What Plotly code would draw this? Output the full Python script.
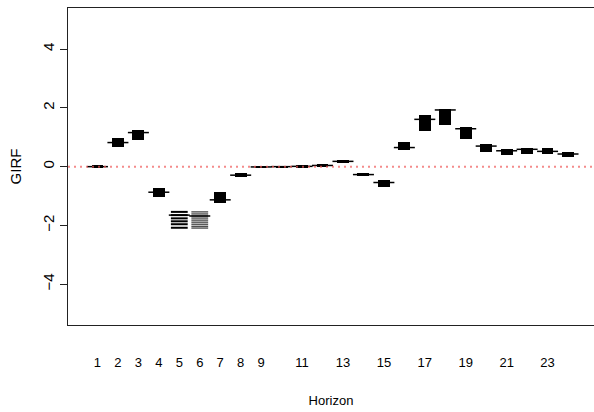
import plotly.graph_objects as go

# Horizons 1..24
horizon = list(range(1, 25))
# box lower / upper edges and the wider (median) line
box_lo = [-0.04, 0.68, 0.91, -1.02, None, None, -1.23, -0.36, -0.04, -0.02, -0.02, 0.00,
          0.13, -0.32, -0.68, 0.57, 1.23, 1.41, 0.93, 0.51, 0.41, 0.44, 0.44, 0.34]
box_hi = [0.04, 0.97, 1.25, -0.72, None, None, -0.86, -0.22, 0.02, 0.03, 0.04, 0.08,
          0.23, -0.22, -0.45, 0.84, 1.75, 1.97, 1.34, 0.76, 0.60, 0.64, 0.64, 0.50]
box_mid = [0.00, 0.82, 1.16, -0.87, -1.65, -1.68, -1.13, -0.29, -0.01, 0.00, 0.01, 0.04,
           0.18, -0.27, -0.54, 0.65, 1.61, 1.93, 1.29, 0.70, 0.54, 0.59, 0.52, 0.43]
# horizons 5 and 6 show separate horizontal strokes
stripes_h5 = [-1.54, -1.65, -1.76, -1.86, -1.96, -2.08]
stripes_h6 = [-1.54, -1.61, -1.68, -1.75, -1.82, -1.89, -1.96, -2.03, -2.09]

xtick_vals = [1, 2, 3, 4, 5, 6, 7, 8, 9, 11, 13, 15, 17, 19, 21, 23]
xtick_text = [str(v) for v in xtick_vals]
ytick_vals = [-4, -2, 0, 2, 4]

bx, bbase, bh = [], [], []
for h, lo, hi in zip(horizon, box_lo, box_hi):
    if lo is None:
        continue
    bx.append(h)
    bbase.append(lo)
    bh.append(hi - lo)

fig = go.Figure()
fig.add_trace(go.Bar(x=bx, base=bbase, y=bh, width=0.58,
                     marker=dict(color="black", line=dict(width=0)),
                     showlegend=False, hoverinfo="skip"))
# stripes for horizons 5 and 6
fig.add_trace(go.Scatter(x=[5] * len(stripes_h5), y=stripes_h5, mode="markers",
                         marker=dict(symbol="line-ew", size=12,
                                     line=dict(color="black", width=2)),
                         showlegend=False, hoverinfo="skip"))
fig.add_trace(go.Scatter(x=[6] * len(stripes_h6), y=stripes_h6, mode="markers",
                         marker=dict(symbol="line-ew", size=12,
                                     line=dict(color="#444", width=1.3)),
                         showlegend=False, hoverinfo="skip"))
# wider median strokes
fig.add_trace(go.Scatter(x=horizon, y=box_mid, mode="markers",
                         marker=dict(symbol="line-ew", size=15,
                                     line=dict(color="black", width=1.5)),
                         showlegend=False, hoverinfo="skip"))

fig.add_hline(y=0, line=dict(color="rgba(240,90,90,0.7)", width=2, dash="2px,4px"))

font_fam = "Liberation Sans, Arial, sans-serif"

fig.update_layout(
    width=594, height=412,
    margin=dict(l=68, r=0, t=8, b=87),
    paper_bgcolor="white", plot_bgcolor="white",
    bargap=0,
    xaxis=dict(range=[-0.44, 25.27], showgrid=False, zeroline=False,
               showline=True, mirror=True, linecolor="#222", linewidth=1,
               tickmode="array", tickvals=xtick_vals, ticktext=xtick_text,
               ticks="outside", ticklen=25, tickcolor="rgba(0,0,0,0)",
               tickfont=dict(family=font_fam, size=13, color="black"),
               title=dict(text="Horizon", font=dict(family=font_fam, size=13, color="black"),
                          standoff=27),
               automargin=False),
    yaxis=dict(range=[-5.39, 5.40], showgrid=False, zeroline=False,
               showline=True, linecolor="#222", linewidth=1,
               tickmode="array", tickvals=ytick_vals,
               ticks="outside", ticklen=7, tickcolor="#222",
               tickangle=-90,
               tickfont=dict(family=font_fam, size=15, color="black"),
               title=dict(text="GIRF", font=dict(family=font_fam, size=15, color="black"),
                          standoff=14),
               automargin=False),
)

fig.write_html("out.html")
